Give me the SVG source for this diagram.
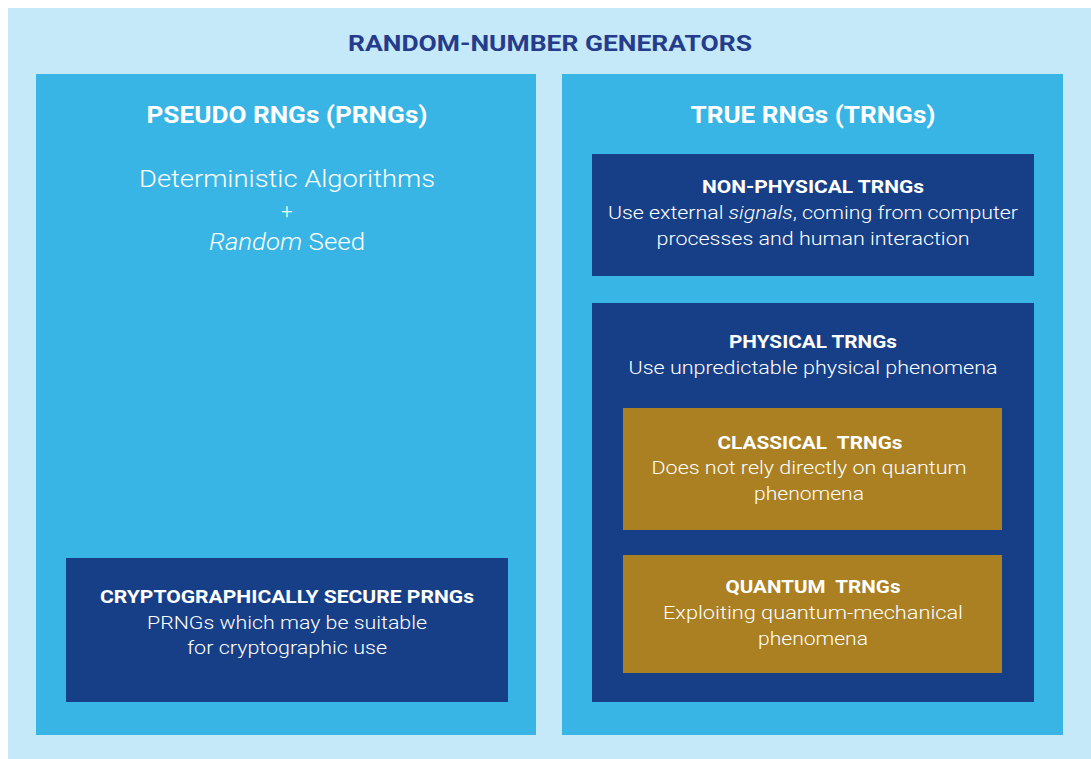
<svg xmlns="http://www.w3.org/2000/svg" width="1091" height="759" viewBox="0 0 1091 759">
<style>
text{font-family:Roboto,"Liberation Sans",sans-serif;fill:#ffffff;text-anchor:middle}
.t{font-weight:bold;font-size:22px;fill:#253c8c}
.h{font-weight:bold;font-size:24px}
.b{font-weight:bold;font-size:19px}
.r{font-size:19px;font-weight:300}
.l{font-size:24px;font-weight:300}
.pre{white-space:pre}
.outer{fill:#c5e9f8}
.panel{fill:#38b5e5}
.dark{fill:#173f87}
.gold{fill:#aa8022}
</style>
<rect class="outer" x="8" y="8" width="1083" height="751"/>
<text class="t" x="550" y="51" textLength="404" lengthAdjust="spacingAndGlyphs">RANDOM-NUMBER GENERATORS</text>
<g id="prng">
<rect class="panel" x="36" y="74" width="500" height="661"/>
<text class="h" x="287" y="123" textLength="281" lengthAdjust="spacingAndGlyphs">PSEUDO RNGs (PRNGs)</text>
<text class="l" x="287" y="187" textLength="296" lengthAdjust="spacingAndGlyphs">Deterministic Algorithms</text>
<text class="l" x="287" y="218" style="font-size:20px">+</text>
<text class="l" x="287" y="250" textLength="156" lengthAdjust="spacingAndGlyphs"><tspan font-style="italic">Random</tspan> Seed</text>
</g>
<g id="csprng">
<rect class="dark" x="66" y="558" width="442" height="144"/>
<text class="b" x="287" y="603" textLength="374" lengthAdjust="spacingAndGlyphs">CRYPTOGRAPHICALLY SECURE PRNGs</text>
<text class="r" x="287" y="629" textLength="280" lengthAdjust="spacingAndGlyphs">PRNGs which may be suitable</text>
<text class="r" x="287" y="654" textLength="200" lengthAdjust="spacingAndGlyphs">for cryptographic use</text>
</g>
<g id="trng">
<rect class="panel" x="562" y="74" width="501" height="661"/>
<text class="h" x="813" y="123" textLength="245" lengthAdjust="spacingAndGlyphs">TRUE RNGs (TRNGs)</text>
</g>
<g id="nonphysical">
<rect class="dark" x="592" y="154" width="442" height="122"/>
<text class="b" x="813" y="193" textLength="222" lengthAdjust="spacingAndGlyphs">NON-PHYSICAL TRNGs</text>
<text class="r" x="813" y="219" textLength="410" lengthAdjust="spacingAndGlyphs">Use external <tspan font-style="italic">signals</tspan>, coming from computer</text>
<text class="r" x="813" y="245" textLength="313" lengthAdjust="spacingAndGlyphs">processes and human interaction</text>
</g>
<g id="physical">
<rect class="dark" x="592" y="303" width="442" height="399"/>
<text class="b" x="813" y="348" textLength="168" lengthAdjust="spacingAndGlyphs">PHYSICAL TRNGs</text>
<text class="r" x="813" y="374" textLength="369" lengthAdjust="spacingAndGlyphs">Use unpredictable physical phenomena</text>
</g>
<g id="classical">
<rect class="gold" x="623" y="408" width="379" height="122"/>
<text class="b pre" x="810" y="449" textLength="185" lengthAdjust="spacingAndGlyphs">CLASSICAL  TRNGs</text>
<text class="r" x="809" y="474" textLength="315" lengthAdjust="spacingAndGlyphs">Does not rely directly on quantum</text>
<text class="r" x="809" y="500" textLength="110" lengthAdjust="spacingAndGlyphs">phenomena</text>
</g>
<g id="quantum">
<rect class="gold" x="623" y="555" width="379" height="118"/>
<text class="b pre" x="813" y="593" textLength="175" lengthAdjust="spacingAndGlyphs">QUANTUM  TRNGs</text>
<text class="r" x="813" y="619" textLength="300" lengthAdjust="spacingAndGlyphs">Exploiting quantum-mechanical</text>
<text class="r" x="813" y="645" textLength="110" lengthAdjust="spacingAndGlyphs">phenomena</text>
</g>
<g id="connectors"></g>
</svg>
